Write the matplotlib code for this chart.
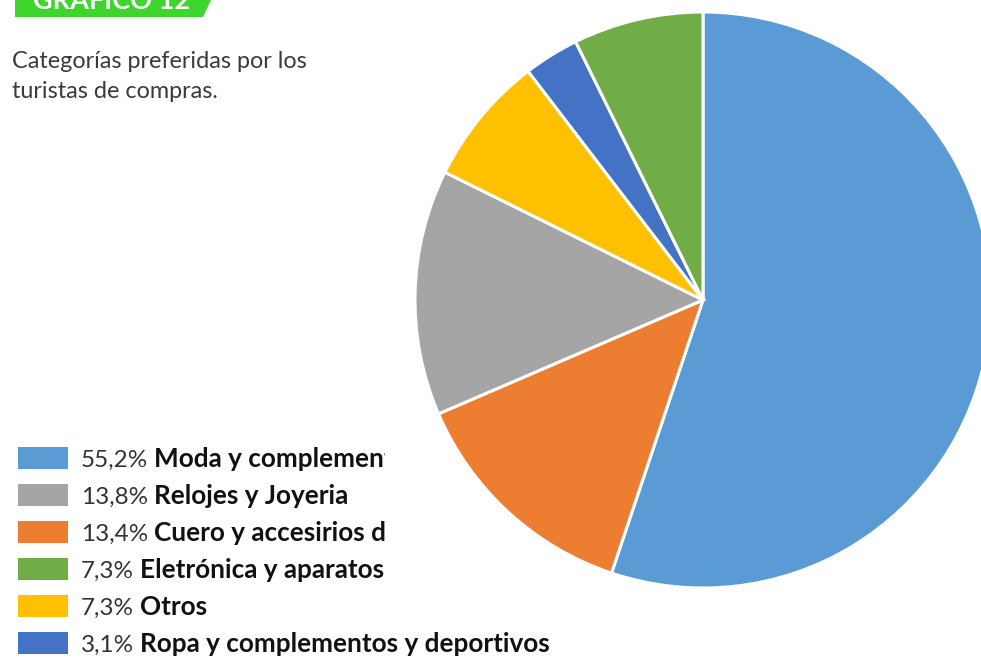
import matplotlib
matplotlib.use("Agg")
import matplotlib.pyplot as plt
from matplotlib.patches import Polygon, Rectangle
from matplotlib.text import Annotation

# Data
categories = ["Moda y complementos", "Relojes y Joyeria", "Cuero y accesirios de",
              "Eletrónica y aparatos", "Otros", "Ropa y complementos y deportivos"]
shares = [55.2, 13.8, 13.4, 7.3, 7.3, 3.1]
share_labels = ["55,2%", "13,8%", "13,4%", "7,3%", "7,3%", "3,1%"]
colors = ["#5B9BD5", "#A5A5A5", "#ED7D31", "#70AD47", "#FFC000", "#4472C4"]
# clockwise order of the slices, starting at twelve o'clock
pie_order = [0, 2, 1, 4, 5, 3]

title = "GRÁFICO 12"
subtitle = ["Categorías preferidas por los", "turistas de compras."]

W, H = 981, 658
fig = plt.figure(figsize=(W / 100, H / 100), dpi=100)
fig.patch.set_facecolor("white")


def fx(x):
    return x / W


def fy(y):
    return 1 - y / H


# Pie
cx, cy, r = 703, 300, 288
ax = fig.add_axes([fx(cx - r), fy(cy + r), 2 * r / W, 2 * r / H])
ax.pie([shares[i] for i in pie_order], colors=[colors[i] for i in pie_order],
       startangle=90, counterclock=False, radius=1,
       wedgeprops=dict(edgecolor="white", linewidth=2.2))
ax.set_xlim(-1, 1)
ax.set_ylim(-1, 1)
ax.set_aspect("equal")
ax.axis("off")

# Title tag
tag = Polygon([(fx(15), fy(0)), (fx(211), fy(0)), (fx(203), fy(17)), (fx(15), fy(17))],
              closed=True, transform=fig.transFigure, facecolor="#3ED62E",
              edgecolor="none")
fig.patches.append(tag)
fig.text(fx(33), fy(9), title, color="white", fontsize=19.5, fontweight="bold",
         family="Lato", va="baseline", ha="left")

# Subtitle
for i, line in enumerate(subtitle):
    fig.text(fx(12), fy(61 + 31 * i), line, color="#3a3a3a", fontsize=16.8,
             family="Lato", fontweight="normal", va="center", ha="left")

# Legend
clip = Rectangle((0, 0), fx(385), 1, transform=fig.transFigure)
row0, step = 458, 37
for k in range(len(categories)):
    yc = row0 + step * k
    sq = Rectangle((fx(18), fy(yc + 11)), 50 / W, 22 / H, transform=fig.transFigure,
                   facecolor=colors[k], edgecolor="none")
    fig.patches.append(sq)
    t = fig.text(fx(81), fy(yc + 13), share_labels[k], color="#333333", fontsize=17.5,
                 family="Lato", fontweight="normal", va="bottom", ha="left")
    a = fig.add_artist(Annotation(
        categories[k], xy=(1, 0), xycoords=t, xytext=(4.5, 0),
        textcoords="offset points", va="bottom", ha="left",
        color="#111111", fontsize=18.8, family="Lato", fontweight="bold"))
    if k < len(categories) - 1:
        a.set_clip_path(clip)
        a.set_clip_on(True)

fig.savefig("out.png", dpi=100, facecolor="white")
